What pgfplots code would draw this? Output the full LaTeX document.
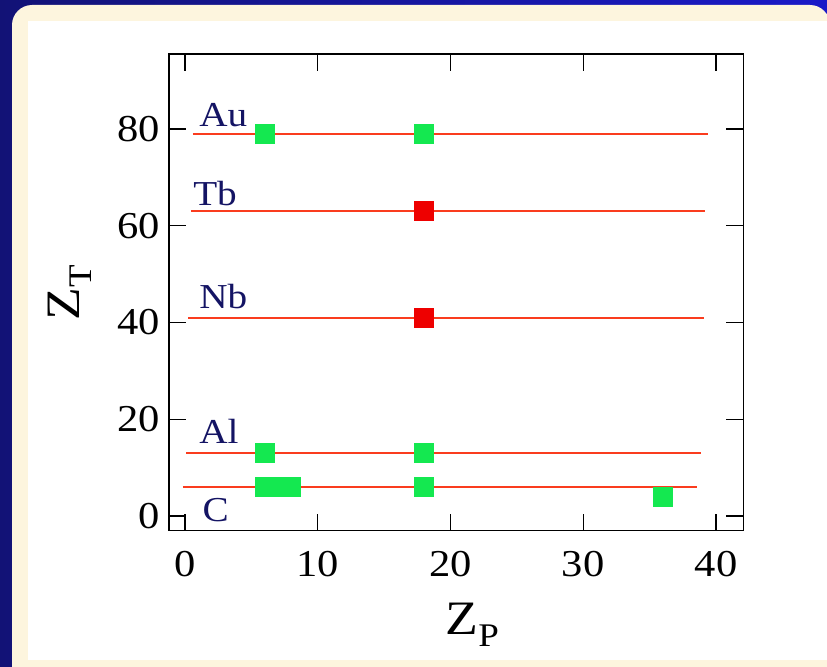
\documentclass[border=0pt]{standalone}
\usepackage{fontspec}
\setmainfont{Liberation Serif}[FakeStretch=1.12]
\usepackage{pgfplots}
\pgfplotsset{compat=1.18}

\definecolor{navyL}{RGB}{18,18,118}
\definecolor{navyR}{RGB}{26,26,200}
\definecolor{cream}{RGB}{253,245,222}
\definecolor{lineRed}{RGB}{250,60,30}
\definecolor{ptGreen}{RGB}{20,232,80}
\definecolor{ptRed}{RGB}{238,0,0}
\definecolor{labNavy}{RGB}{20,20,100}

\begin{document}
\begin{tikzpicture}
\useasboundingbox (0,0) rectangle (413.5pt,333pt);
\clip (0,0) rectangle (413.5pt,333pt);
% slide background and panel
\shade[left color=navyL, right color=navyR] (0,0) rectangle (413.5pt,333pt);
\fill[cream, rounded corners=10pt] (6pt,330.5pt) rectangle (415pt,-10pt);
\fill[white] (14pt,322.5pt) rectangle (413.5pt,3pt);

\begin{axis}[
  at={(84.5pt,67.65pt)}, anchor=south west,
  scale only axis, width=287.2pt, height=238.4pt,
  xmin=-1.2, xmax=42.06, ymin=-3.0, ymax=95.5,
  xtick={0,10,...,40}, ytick={0,20,...,80},
  minor tick num=0,
  tick align=inside, tickwidth=8.5pt, major tick length=8.5pt,
  every tick/.style={black, line width=0.7pt},
  axis line style={black, line width=0.75pt},
  /pgf/number format/assume math mode=true,
  tick label style={font=\fontsize{19}{22}\selectfont},
  xticklabel style={anchor=base, yshift=-23pt},
  yticklabel style={inner sep=0pt, xshift=-4.5pt},
  xlabel={Z\raisebox{-6pt}{\fontsize{16.5}{18}\selectfont P}},
  ylabel={Z\raisebox{-6pt}{\fontsize{16.5}{18}\selectfont T}},
  label style={font=\fontsize{24}{28}\selectfont},
  xlabel style={at={(axis description cs:0.528,-0.218)}, anchor=base},
  ylabel style={at={(axis description cs:-0.155,0.5)}, anchor=base},
  clip=false,
]
% target lines
\addplot[lineRed, line width=1pt] coordinates {(0.6,79) (39.4,79)};
\addplot[lineRed, line width=1pt] coordinates {(0.45,63) (39.2,63)};
\addplot[lineRed, line width=1pt] coordinates {(0.25,41) (39.1,41)};
\addplot[lineRed, line width=1pt] coordinates {(0.1,13) (38.9,13)};
\addplot[lineRed, line width=1pt] coordinates {(-0.15,6) (38.6,6)};
% measured systems
\addplot[only marks, mark=square*, mark size=4.75pt,
  mark options={fill=ptGreen, draw=ptGreen, line width=0pt}] coordinates {
  (6,79) (18,79) (6,13) (18,13) (6,6) (7,6) (8,6) (18,6) (36,4)};
\addplot[only marks, mark=square*, mark size=4.75pt,
  mark options={fill=ptRed, draw=ptRed, line width=0pt}] coordinates {
  (18,63) (18,41)};
% target names
\begin{scope}[every node/.style={anchor=base west, inner sep=0pt,
    text=labNavy, font=\fontsize{17.5}{20}\selectfont}]
  \node at (axis cs:1.05,80.6) {Au};
  \node at (axis cs:0.6,64.1) {Tb};
  \node at (axis cs:1.05,42.9) {Nb};
  \node at (axis cs:1.05,15.1) {Al};
  \node at (axis cs:1.3,-1.2) {C};
\end{scope}
\end{axis}
\end{tikzpicture}
\end{document}
